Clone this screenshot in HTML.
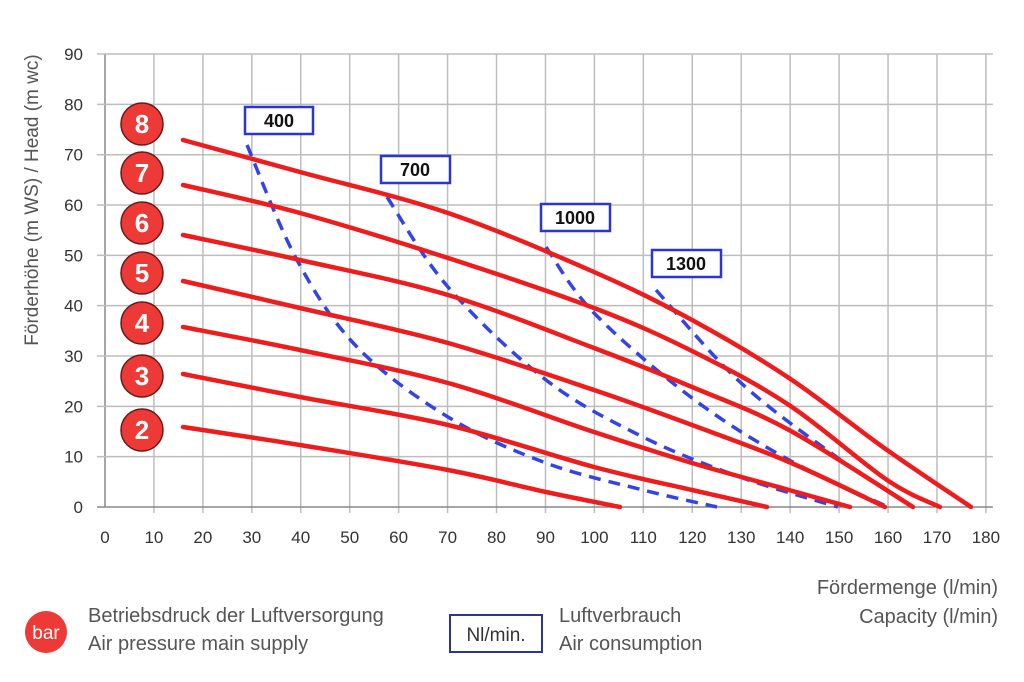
<!DOCTYPE html>
<html><head><meta charset="utf-8"><style>
body{margin:0;background:#fff;width:1024px;height:677px;overflow:hidden;font-family:"Liberation Sans",sans-serif}
</style></head><body>
<svg id="s" width="1024" height="677" xmlns="http://www.w3.org/2000/svg" font-family="Liberation Sans, sans-serif">
<g id="grid" stroke="#bdbdbd" stroke-width="1.5"></g>
<g id="ticks" fill="#333" font-size="17"></g>
<g id="curves" fill="none" stroke-linecap="round"></g>
<g id="circ"></g>
<g fill="#fff" stroke="#2b35d6" stroke-width="2.5">
<rect x="245" y="107" width="68" height="27"/><rect x="381" y="156" width="69" height="27"/>
<rect x="541" y="204" width="69" height="27"/><rect x="652" y="250" width="69" height="27"/></g>
<g font-size="18" font-weight="bold" fill="#111" text-anchor="middle">
<text x="279" y="127">400</text><text x="415" y="176">700</text><text x="575" y="224">1000</text><text x="686" y="270">1300</text></g>
<text transform="translate(38,200) rotate(-90)" text-anchor="middle" font-size="19" fill="#555">Förderhöhe (m WS) / Head (m wc)</text>
<g font-size="20" fill="#555">
<text x="998" y="594" text-anchor="end">Fördermenge (l/min)</text>
<text x="998" y="623" text-anchor="end">Capacity (l/min)</text>
<text x="88" y="622">Betriebsdruck der Luftversorgung</text>
<text x="88" y="650">Air pressure main supply</text>
<text x="559" y="622">Luftverbrauch</text>
<text x="559" y="650">Air consumption</text>
</g>
<circle cx="46" cy="632" r="21" fill="#ee3a36"/>
<text x="46" y="639" text-anchor="middle" fill="#fff" font-size="19">bar</text>
<rect x="450" y="615" width="92" height="37" fill="#fff" stroke="#2b3590" stroke-width="2"/>
<text x="496" y="641" text-anchor="middle" fill="#333" font-size="19">Nl/min.</text>
</svg>
<script>
const NS="http://www.w3.org/2000/svg";
function el(p,t,a,txt){const e=document.createElementNS(NS,t);for(const k in a)e.setAttribute(k,a[k]);if(txt!=null)e.textContent=txt;document.getElementById(p).appendChild(e);}
const X=v=>105+v*4.894, Y=v=>507-v*5.033;
for(let i=0;i<=18;i++){el('grid','line',{x1:X(i*10),x2:X(i*10),y1:Y(90),y2:Y(0)+(i==0?0:6),stroke:i==0?'#888':'#bdbdbd'});
 el('ticks','text',{x:X(i*10),y:543,'text-anchor':'middle'},String(i*10));}
for(let j=0;j<=9;j++){el('grid','line',{x1:X(0)-8,x2:X(180)+7,y1:Y(j*10),y2:Y(j*10),stroke:j==0?'#888':'#bdbdbd'});
 el('ticks','text',{x:83,y:Y(j*10)+6,'text-anchor':'end'},String(j*10));}
function smooth(p){let d="M"+p[0][0]+","+p[0][1];for(let i=0;i<p.length-1;i++){const p0=p[i-1]||p[i],p1=p[i],p2=p[i+1],p3=p[i+2]||p2;
 const c1=[p1[0]+(p2[0]-p0[0])/6,p1[1]+(p2[1]-p0[1])/6],c2=[p2[0]-(p3[0]-p1[0])/6,p2[1]-(p3[1]-p1[1])/6];
 d+=` C${c1[0]},${c1[1]} ${c2[0]},${c2[1]} ${p2[0]},${p2[1]}`;}return d;}
const blue=[
[[247,145],[297,260],[357,347],[448,417],[546,463],[643,490],[717,507]],
[[387,197],[448,287],[546,380],[643,437],[740,477],[838,507]],
[[546,247],[594,313],[692,398],[789,460],[888,507]],
[[656,290],[740,382],[838,458],[913,507]]];
const red=[
[[183,140],[300,172],[448,213],[594,272],[692,320],[789,378],[887,450],[971,507]],
[[183,185],[300,213],[448,258],[594,308],[692,351],[789,405],[887,480],[940,507]],
[[183,235],[300,260],[448,295],[594,348],[692,387],[789,430],[913,507]],
[[183,281],[300,308],[448,343],[594,390],[692,425],[789,462],[885,507]],
[[183,327],[300,350],[448,383],[594,432],[692,463],[789,490],[850,507]],
[[183,374],[300,397],[448,425],[594,467],[692,490],[767,507]],
[[183,427],[300,445],[448,470],[546,492],[620,507]]];
blue.forEach(p=>el('curves','path',{d:smooth(p),stroke:'#3344e6','stroke-width':3.5,'stroke-dasharray':'12 8','stroke-linecap':'butt'}));
red.forEach(p=>el('curves','path',{d:smooth(p),stroke:'#ee1c1c','stroke-width':4.5}));
[[124,8],[173,7],[223,6],[273,5],[323,4],[376,3],[430,2]].forEach(([y,n])=>{
 el('circ','circle',{cx:142,cy:y,r:21,fill:'#ee3a36',stroke:'#6a1a1a','stroke-width':1.5});
 el('circ','text',{x:142,y:y+9,'text-anchor':'middle',fill:'#fff','font-size':26,'font-weight':'bold'},String(n));});
</script>
</body></html>
